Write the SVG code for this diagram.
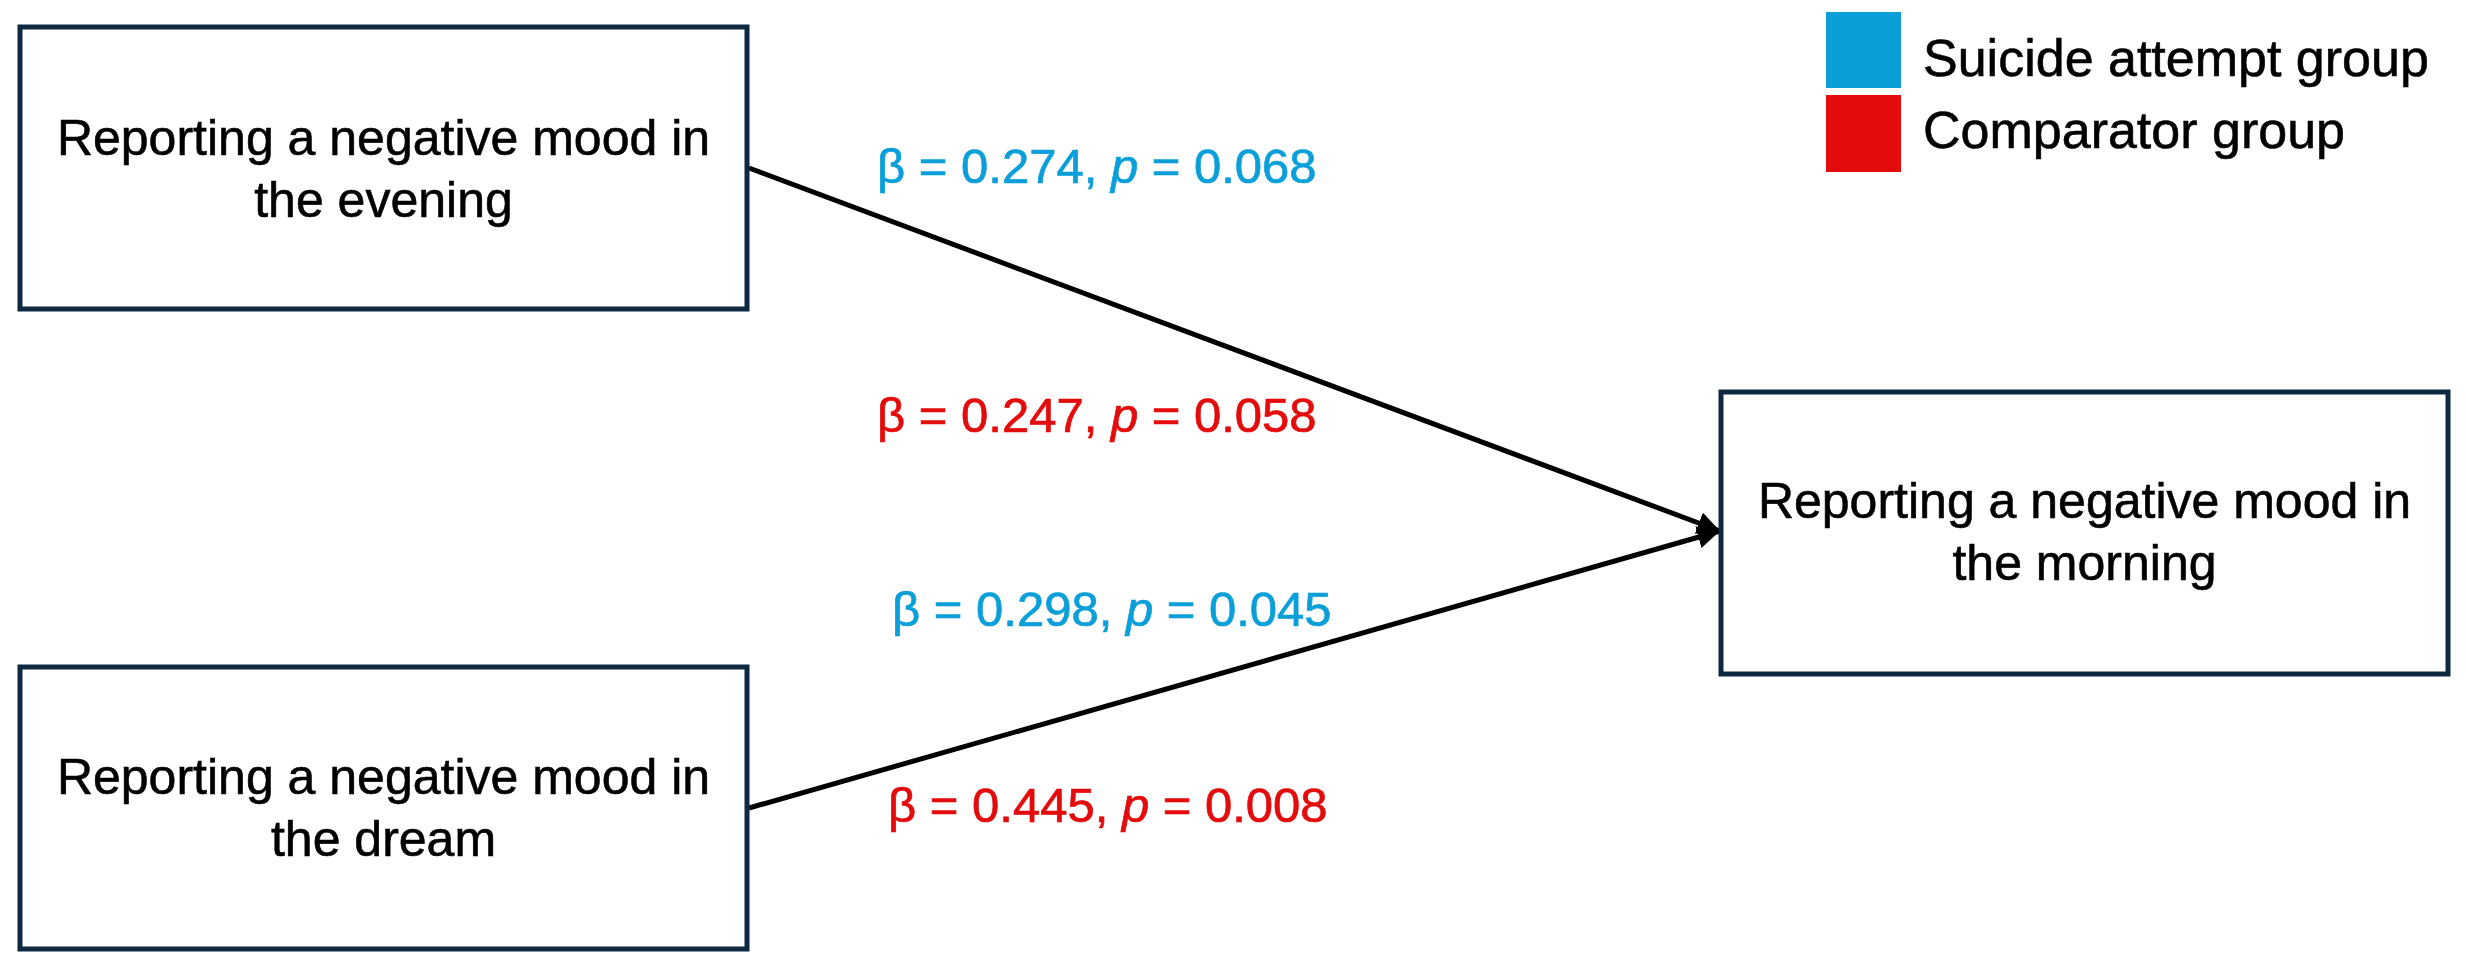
<svg xmlns="http://www.w3.org/2000/svg" width="2466" height="968" viewBox="0 0 2466 968">
<style>
.box{fill:#ffffff;stroke:#0E2841;stroke-width:5}
.bt{font-family:"Liberation Sans",Arial,sans-serif;font-size:50px;fill:#000000;stroke:#000000;stroke-width:0.6;text-anchor:middle}
.lg{font-family:"Liberation Sans",Arial,sans-serif;font-size:52px;fill:#000000;stroke:#000000;stroke-width:0.6}
.lab{font-family:"Liberation Sans",Arial,sans-serif;font-size:49px;stroke-width:0.7}
.blue{fill:#0A9FD8;stroke:#0A9FD8}
.red{fill:#E30B0B;stroke:#E30B0B}
.edge{stroke:#000000;stroke-width:5;fill:none}
</style>
<defs>
<marker id="arrow" viewBox="0 0 10 10" refX="10" refY="5" markerWidth="4.5" markerHeight="4.5" orient="auto" markerUnits="strokeWidth">
<path d="M0,0 L10,5 L0,10 Z" fill="#000000"/>
</marker>
</defs>
<rect width="2466" height="968" fill="#ffffff"/>
<g id="connectors">
<line class="edge" x1="749" y1="168" x2="1720" y2="531" marker-end="url(#arrow)"/>
<line class="edge" x1="749" y1="808" x2="1720" y2="531" marker-end="url(#arrow)"/>
</g>
<g id="node-evening">
<rect class="box" x="20" y="27" width="727" height="282"/>
<text class="bt" x="383.5" y="155">Reporting a negative mood in</text>
<text class="bt" x="383.5" y="217">the evening</text>
</g>
<g id="node-dream">
<rect class="box" x="20" y="667" width="727" height="282"/>
<text class="bt" x="383.5" y="794">Reporting a negative mood in</text>
<text class="bt" x="383.5" y="856">the dream</text>
</g>
<g id="node-morning">
<rect class="box" x="1721" y="392" width="727" height="282"/>
<text class="bt" x="2084.5" y="518">Reporting a negative mood in</text>
<text class="bt" x="2084.5" y="580">the morning</text>
</g>
<g id="labels">
<text class="lab blue" x="877" y="183">β = 0.274, <tspan font-style="italic">p</tspan> = 0.068</text>
<text class="lab red" x="877" y="432">β = 0.247, <tspan font-style="italic">p</tspan> = 0.058</text>
<text class="lab blue" x="892" y="626">β = 0.298, <tspan font-style="italic">p</tspan> = 0.045</text>
<text class="lab red" x="888" y="822">β = 0.445, <tspan font-style="italic">p</tspan> = 0.008</text>
</g>
<g id="legend">
<rect x="1826" y="12" width="75" height="76" fill="#0A9FD8"/>
<rect x="1826" y="95" width="75" height="77" fill="#E30B0B"/>
<text class="lg" x="1923" y="76">Suicide attempt group</text>
<text class="lg" x="1923" y="148">Comparator group</text>
</g>
</svg>
